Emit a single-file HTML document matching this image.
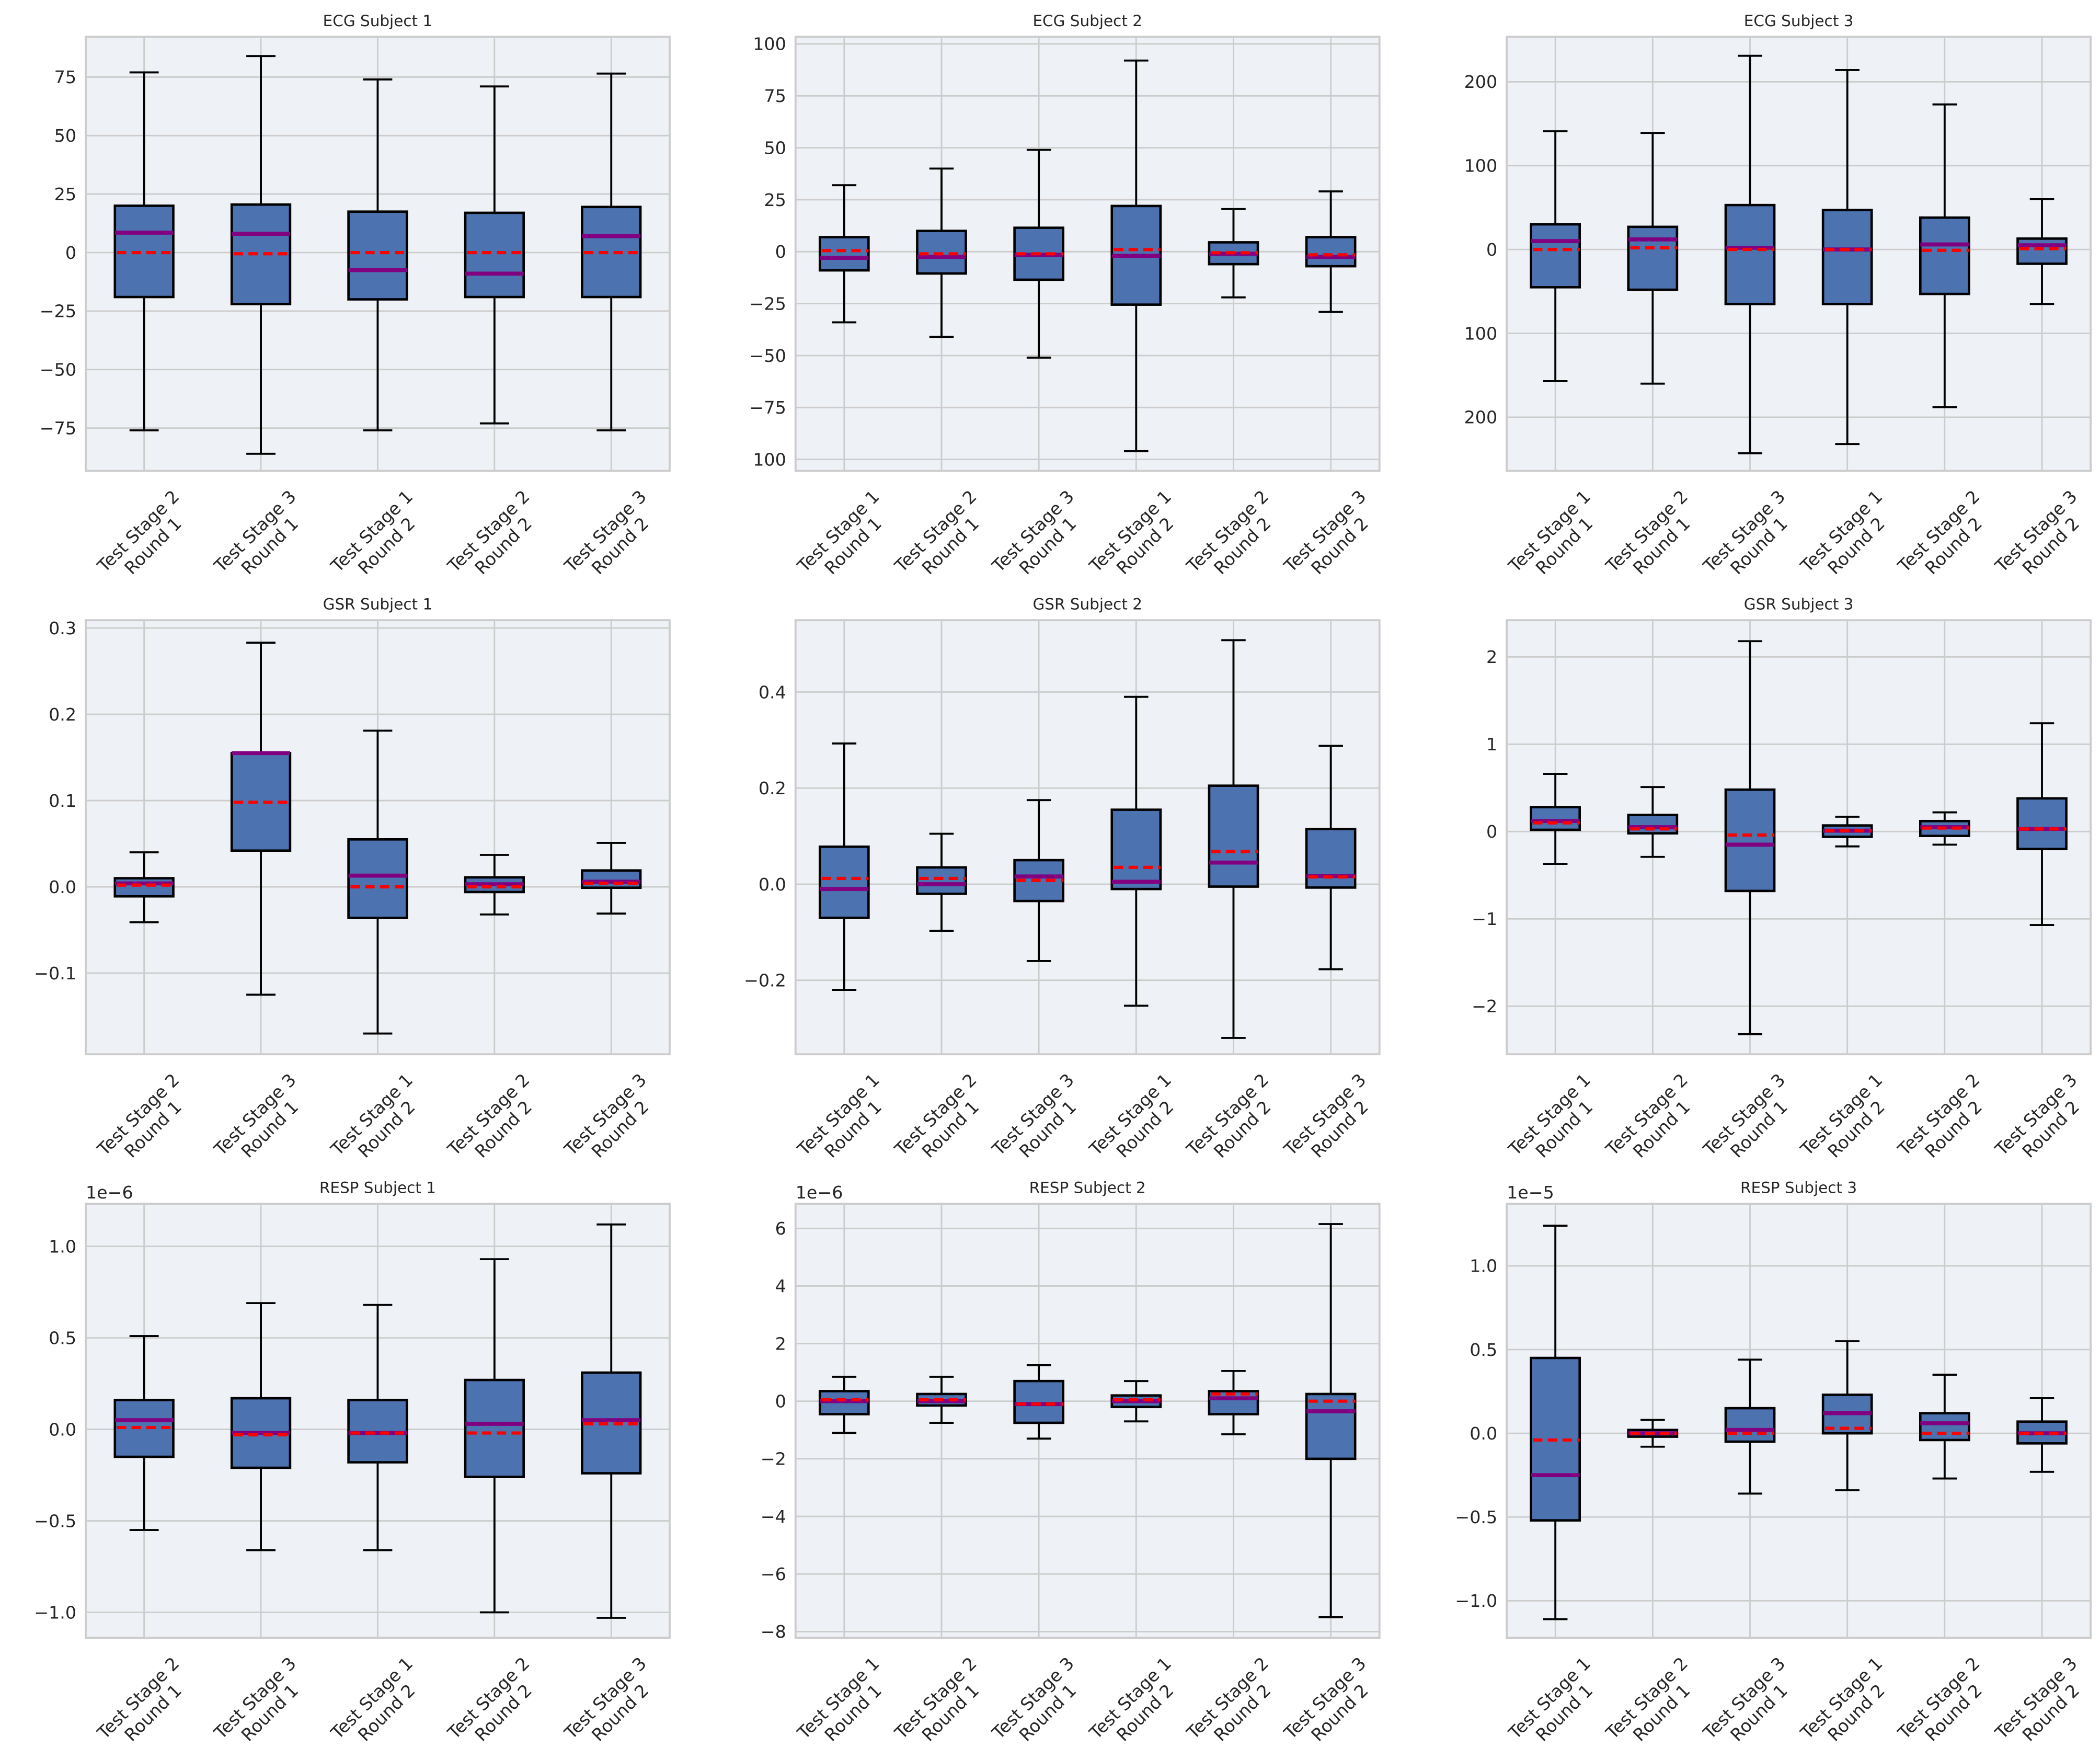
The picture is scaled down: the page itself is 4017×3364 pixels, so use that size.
<!DOCTYPE html>
<html><head><meta charset="utf-8"><title>Physiological signal box plots</title>
<style>
html,body{margin:0;padding:0;background:#fff;}
svg{display:block;}
text{font-family:"DejaVu Sans","Liberation Sans",sans-serif;fill:#262626;}
</style></head>
<body>
<svg id="fig" xmlns="http://www.w3.org/2000/svg" width="4017" height="3364" viewBox="0 0 1568 1313.1">
<rect x="0" y="0" width="1568" height="1313.1" fill="#ffffff"/>
</svg>
<script>
// ---- category labels ----
const cats5 = ["Test Stage 2\nRound 1","Test Stage 3\nRound 1","Test Stage 1\nRound 2","Test Stage 2\nRound 2","Test Stage 3\nRound 2"];
const cats6 = ["Test Stage 1\nRound 1","Test Stage 2\nRound 1","Test Stage 3\nRound 1","Test Stage 1\nRound 2","Test Stage 2\nRound 2","Test Stage 3\nRound 2"];
// ---- box stats: [whisker low, q1, median, mean, q3, whisker high] ----
const ecg1Stats = [[-76,-19,8.5,0,20,77],[-86,-22,8,-0.5,20.5,84],[-76,-20,-7.5,0,17.5,74],[-73,-19,-9,0,17,71],[-76,-19,7,0,19.5,76.5]];
const ecg2Stats = [[-34,-9,-3,0.5,7,32],[-41,-10.5,-2.5,-1,10,40],[-51,-13.5,-1.5,-1,11.5,49],[-96,-25.5,-2,1,22,92],[-22,-6,-1,-0.5,4.5,20.5],[-29,-7,-2.5,-1.5,7,29]];
const ecg3Stats = [[-157,-45,10,0,30,141],[-160,-48,12,2,27,139],[-243,-65,2,0,53,231],[-232,-65,0,0,47,214],[-188,-53,6,-1,38,173],[-65,-17,5,1,13,60]];
const gsr1Stats = [[-0.041,-0.011,0.004,0.002,0.010,0.040],[-0.125,0.042,0.155,0.098,0.155,0.283],[-0.170,-0.036,0.013,0.000,0.055,0.181],[-0.032,-0.006,0.003,0.000,0.011,0.037],[-0.031,-0.001,0.006,0.004,0.019,0.051]];
const gsr2Stats = [[-0.22,-0.07,-0.01,0.012,0.078,0.293],[-0.097,-0.02,0.0,0.012,0.035,0.105],[-0.16,-0.035,0.016,0.008,0.05,0.175],[-0.253,-0.01,0.005,0.035,0.155,0.39],[-0.32,-0.005,0.045,0.068,0.205,0.508],[-0.177,-0.007,0.017,0.015,0.115,0.288]];
const gsr3Stats = [[-0.37,0.02,0.12,0.10,0.28,0.66],[-0.29,-0.02,0.05,0.03,0.19,0.51],[-2.32,-0.68,-0.15,-0.04,0.48,2.18],[-0.17,-0.06,0.01,0.01,0.07,0.17],[-0.15,-0.05,0.05,0.04,0.12,0.22],[-1.07,-0.20,0.03,0.03,0.38,1.24]];
const resp1Stats = [[-0.55,-0.15,0.05,0.01,0.16,0.51],[-0.66,-0.21,-0.02,-0.03,0.17,0.69],[-0.66,-0.18,-0.02,-0.02,0.16,0.68],[-1.00,-0.26,0.03,-0.02,0.27,0.93],[-1.03,-0.24,0.05,0.03,0.31,1.12]];
const resp2Stats = [[-1.1,-0.45,0.0,0.05,0.35,0.85],[-0.75,-0.15,0.0,0.05,0.25,0.85],[-1.3,-0.75,-0.1,-0.1,0.7,1.25],[-0.7,-0.2,0.0,0.05,0.2,0.7],[-1.15,-0.45,0.1,0.25,0.35,1.05],[-7.5,-2.0,-0.35,0.0,0.25,6.15]];
const resp3Stats = [[-1.11,-0.52,-0.25,-0.04,0.45,1.24],[-0.08,-0.02,0.0,0.0,0.02,0.08],[-0.36,-0.05,0.02,0.0,0.15,0.44],[-0.34,0.0,0.12,0.03,0.23,0.55],[-0.27,-0.04,0.06,0.0,0.12,0.35],[-0.23,-0.06,0.0,0.0,0.07,0.21]];
// ---- y tick values and labels ----
const ecg1Ticks = [-75,-50,-25,0,25,50,75];
const ecg1TickLabels = ["\u221275","\u221250","\u221225","0","25","50","75"];
const ecg2Ticks = [-100,-75,-50,-25,0,25,50,75,100];
const ecg2TickLabels = ["100","\u221275","\u221250","\u221225","0","25","50","75","100"];
const ecg3Ticks = [-200,-100,0,100,200];
const ecg3TickLabels = ["200","100","0","100","200"];
const gsr1Ticks = [-0.1,0,0.1,0.2,0.3];
const gsr1TickLabels = ["\u22120.1","0.0","0.1","0.2","0.3"];
const gsr2Ticks = [-0.2,0,0.2,0.4];
const gsr2TickLabels = ["\u22120.2","0.0","0.2","0.4"];
const gsr3Ticks = [-2,-1,0,1,2];
const gsr3TickLabels = ["\u22122","\u22121","0","1","2"];
const resp1Ticks = [-1,-0.5,0,0.5,1];
const resp1TickLabels = ["\u22121.0","\u22120.5","0.0","0.5","1.0"];
const resp2Ticks = [-8,-6,-4,-2,0,2,4,6];
const resp2TickLabels = ["\u22128","\u22126","\u22124","\u22122","0","2","4","6"];
const resp3Ticks = [-1,-0.5,0,0.5,1];
const resp3TickLabels = ["\u22121.0","\u22120.5","0.0","0.5","1.0"];
// ---- y limits ----
const ecg1Lim = [-93.3, 92.2];
const ecg2Lim = [-105.5, 103.4];
const ecg3Lim = [-264, 253.6];
const gsr1Lim = [-0.194, 0.309];
const gsr2Lim = [-0.354, 0.5495];
const gsr3Lim = [-2.55, 2.42];
const resp1Lim = [-1.139, 1.233];
const resp2Lim = [-8.214, 6.856];
const resp3Lim = [-1.221, 1.371];

const NS = "http://www.w3.org/2000/svg";
const svg = document.getElementById("fig");
function mk(tag, attrs, parent){
  const e = document.createElementNS(NS, tag);
  for (const k in attrs) e.setAttribute(k, attrs[k]);
  (parent||svg).appendChild(e);
  return e;
}
const colX = [64, 594, 1125];
const rowY = [27.5, 463, 898.6];
const W = 436, H = 324;

function panel(name, title, col, row, cats, stats, ticks, tickLabels, lim, offsetText){
  const x0 = colX[col], y0 = rowY[row];
  const g = mk("g", {});
  
  
  const yScale = v => y0 + H - (v - lim[0]) / (lim[1] - lim[0]) * H;
  const n = cats.length;
  const step = W / n;
  const xScale = i => x0 + step * (i + 0.5);
  const bg = mk("rect", {x:x0, y:y0, width:W, height:H, fill:"#eef1f6"}, g);
  
  
  ticks.forEach(t => { const y = yScale(t); mk("line", {x1:x0, x2:x0+W, y1:y, y2:y, stroke:"#cccccc", "stroke-width":1.1}, g); });
  cats.forEach((c,i) => { const x = xScale(i); mk("line", {x1:x, x2:x, y1:y0, y2:y0+H, stroke:"#cccccc", "stroke-width":1.1}, g); });
  const bw = step * 0.5;
  stats.forEach((s,i) => {
    const cx = xScale(i);
    const bg2 = mk("g", {}, g);
    
    
    const [lo,q1,med,mean,q3,hi] = s;
    mk("line", {x1:cx, x2:cx, y1:yScale(q1), y2:yScale(lo), stroke:"#000", "stroke-width":1.5}, bg2);
    mk("line", {x1:cx, x2:cx, y1:yScale(q3), y2:yScale(hi), stroke:"#000", "stroke-width":1.5}, bg2);
    mk("line", {x1:cx-bw/4, x2:cx+bw/4, y1:yScale(lo), y2:yScale(lo), stroke:"#000", "stroke-width":1.5}, bg2);
    mk("line", {x1:cx-bw/4, x2:cx+bw/4, y1:yScale(hi), y2:yScale(hi), stroke:"#000", "stroke-width":1.5}, bg2);
    mk("rect", {x:cx-bw/2, y:yScale(q3), width:bw, height:Math.max(0.5, yScale(q1)-yScale(q3)), fill:"#4c72b0", stroke:"#000", "stroke-width":1.8}, bg2);
    mk("line", {x1:cx-bw/2, x2:cx+bw/2, y1:yScale(med), y2:yScale(med), stroke:"#800080", "stroke-width":3}, bg2);
    mk("line", {x1:cx-bw/2+1.5, x2:cx+bw/2, y1:yScale(mean), y2:yScale(mean), stroke:"#ff0000", "stroke-width":2.4, "stroke-dasharray":"7,4"}, bg2);
  });
  mk("rect", {x:x0, y:y0, width:W, height:H, fill:"none", stroke:"#cccccc", "stroke-width":1.5}, g);
  ticks.forEach((t,i) => {
    const tl = mk("text", {x:x0-7, y:yScale(t)+4.6, "text-anchor":"end", "font-size":"13"}, g);
    
    
    tl.textContent = tickLabels[i];
  });
  cats.forEach((c,i) => {
    const cx = xScale(i);
    const lines = c.split("\n");
    const lg = mk("g", {transform:`translate(${cx+27},${y0+H+20}) rotate(-45)`}, g);
    
    
    const t1 = mk("text", {x:0, y:0, "text-anchor":"end", "font-size":"13"}, lg);
    t1.textContent = lines[0];
    const w1 = t1.getComputedTextLength ? t1.getComputedTextLength() : 76;
    const t2 = mk("text", {x:-w1/2, y:15.5, "text-anchor":"middle", "font-size":"13"}, lg);
    t2.textContent = lines[1];
  });
  const tt = mk("text", {x:x0+W/2, y:y0-8, "text-anchor":"middle", "font-size":"11.5"}, g);
  
  
  tt.textContent = title;
  if (offsetText){
    const ot = mk("text", {x:x0, y:y0-4, "text-anchor":"start", "font-size":"13"}, g);
    
    
    ot.textContent = offsetText;
  }
}
panel("ecg-subject-1","ECG Subject 1",0,0,cats5,ecg1Stats,ecg1Ticks,ecg1TickLabels,ecg1Lim,null);
panel("ecg-subject-2","ECG Subject 2",1,0,cats6,ecg2Stats,ecg2Ticks,ecg2TickLabels,ecg2Lim,null);
panel("ecg-subject-3","ECG Subject 3",2,0,cats6,ecg3Stats,ecg3Ticks,ecg3TickLabels,ecg3Lim,null);
panel("gsr-subject-1","GSR Subject 1",0,1,cats5,gsr1Stats,gsr1Ticks,gsr1TickLabels,gsr1Lim,null);
panel("gsr-subject-2","GSR Subject 2",1,1,cats6,gsr2Stats,gsr2Ticks,gsr2TickLabels,gsr2Lim,null);
panel("gsr-subject-3","GSR Subject 3",2,1,cats6,gsr3Stats,gsr3Ticks,gsr3TickLabels,gsr3Lim,null);
panel("resp-subject-1","RESP Subject 1",0,2,cats5,resp1Stats,resp1Ticks,resp1TickLabels,resp1Lim,"1e\u22126");
panel("resp-subject-2","RESP Subject 2",1,2,cats6,resp2Stats,resp2Ticks,resp2TickLabels,resp2Lim,"1e\u22126");
panel("resp-subject-3","RESP Subject 3",2,2,cats6,resp3Stats,resp3Ticks,resp3TickLabels,resp3Lim,"1e\u22125");
</script>
</body></html>
